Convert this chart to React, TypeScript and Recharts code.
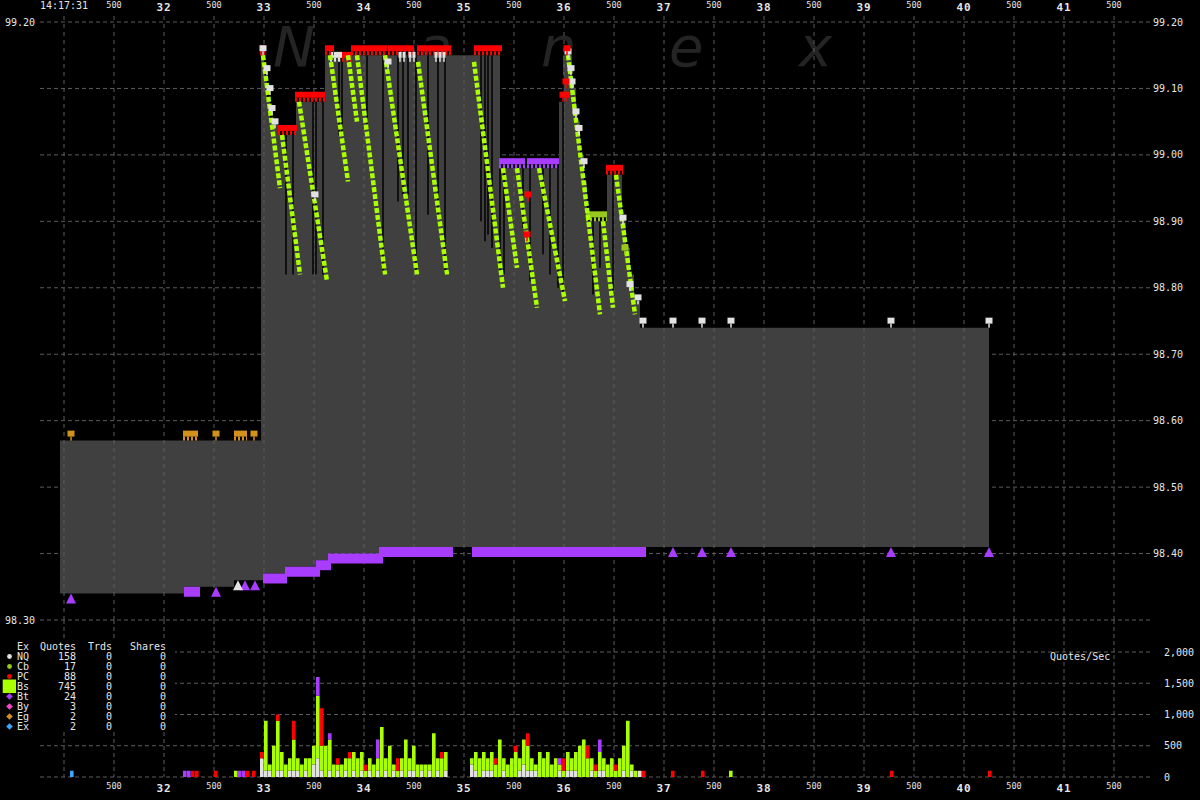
import React from 'react';
import {
  ComposedChart,
  BarChart,
  Area,
  Bar,
  Line,
  Scatter,
  XAxis,
  YAxis,
  CartesianGrid,
} from 'recharts';

// time axis is seconds past 14:17:00
const timeTicks = [
  31, 31.5, 32, 32.5, 33, 33.5, 34, 34.5, 35, 35.5, 36, 36.5, 37, 37.5, 38,
  38.5, 39, 39.5, 40, 40.5, 41, 41.5,
];
const priceTicks = [98.3, 98.4, 98.5, 98.6, 98.7, 98.8, 98.9, 99.0, 99.1, 99.2];
const leftPriceTicks = [98.3, 99.2];
const volTicks = [0, 500, 1000, 1500, 2000];

// NBBO, [time, price] steps
const askSteps = [
  [30.96, 98.57], [32.97, 99.15], [33.0, 99.12], [33.03, 99.08], [33.06, 99.05],
  [33.14, 99.03], [33.32, 99.08], [33.61, 99.15], [35.36, 98.98], [35.95, 99.08],
  [35.99, 99.15], [36.08, 99.1], [36.12, 99.05], [36.16, 99.0], [36.2, 98.96],
  [36.23, 98.9], [36.43, 98.97], [36.58, 98.9], [36.62, 98.86], [36.66, 98.82],
  [36.7, 98.78], [36.76, 98.74], [40.25, 98.74],
];
const bidSteps = [
  [30.96, 98.34], [32.2, 98.35], [32.7, 98.36], [32.99, 98.37], [33.21, 98.38],
  [33.53, 98.39], [33.64, 98.4], [34.15, 98.41], [40.25, 98.41],
];

// momentary ask drops [time, from, to]
const askDips = [
  [33.22, 99.03, 98.82], [33.29, 99.03, 98.82], [33.49, 99.08, 98.82],
  [33.52, 99.08, 98.82], [33.59, 99.08, 98.82], [33.75, 99.15, 99.03],
  [33.78, 99.15, 99.03], [34.03, 99.15, 99.04], [34.19, 99.15, 98.82],
  [34.34, 99.15, 98.93], [34.39, 99.15, 98.94], [34.44, 99.15, 98.94],
  [34.52, 99.15, 98.82], [34.64, 99.15, 98.91], [34.74, 99.15, 98.91],
  [34.81, 99.15, 98.82], [35.17, 99.15, 98.9], [35.21, 99.15, 98.87],
  [35.24, 99.15, 98.88], [35.28, 99.15, 98.86], [35.36, 98.98, 98.82],
  [35.4, 98.98, 98.82], [35.59, 98.98, 98.89], [35.66, 98.98, 98.81],
  [35.79, 98.98, 98.85], [35.86, 98.98, 98.82], [35.94, 98.98, 98.8],
  [35.99, 99.12, 98.79], [36.29, 98.9, 98.79], [36.36, 98.9, 98.83],
  [36.49, 98.97, 98.79],
];

// BATS quote runs [t1, p1, t2, p2]
const bsRuns = [
  [32.99, 99.15, 33.16, 98.95], [33.18, 99.03, 33.36, 98.82],
  [33.35, 99.08, 33.63, 98.81], [33.66, 99.15, 33.84, 98.96],
  [33.84, 99.15, 33.93, 99.05], [33.93, 99.15, 34.21, 98.82],
  [34.21, 99.15, 34.53, 98.82], [34.54, 99.14, 34.83, 98.82],
  [35.1, 99.14, 35.39, 98.8], [35.39, 98.98, 35.53, 98.83],
  [35.53, 98.98, 35.73, 98.77], [35.75, 98.98, 36.01, 98.78],
  [36.04, 99.15, 36.36, 98.76], [36.39, 98.9, 36.49, 98.77],
  [36.52, 98.97, 36.71, 98.76],
];

// clusters of ask quotes [t1, t2, price]
const pcBands = [
  [32.96, 33.01, 99.15], [33.14, 33.33, 99.03], [33.31, 33.61, 99.08],
  [33.61, 33.7, 99.15], [33.78, 33.88, 99.14], [33.87, 34.23, 99.15],
  [34.24, 34.5, 99.15], [34.53, 34.87, 99.15], [35.1, 35.38, 99.15],
  [36.42, 36.59, 98.97],
];
const nqBands = [[33.66, 33.78, 99.14]];
const egBands = [[32.19, 32.34, 98.57], [32.7, 32.83, 98.57]];
const cbBands = [[36.22, 36.43, 98.9]];
const btAskBands = [[35.35, 35.61, 98.98], [35.63, 35.95, 98.98]];
// clusters of bid quotes
const btBidBands = [
  [32.2, 32.36, 98.35], [32.99, 33.23, 98.37], [33.21, 33.56, 98.38],
  [33.52, 33.67, 98.39], [33.64, 34.19, 98.4], [34.15, 34.89, 98.41],
  [35.08, 36.82, 98.41],
];

// single quotes [time, price]
const pcQuotes = [
  [36.03, 99.15], [36.02, 99.1], [35.99, 99.08], [36.02, 99.08], [35.64, 98.93],
  [35.63, 98.87],
];
const nqQuotes = [
  [32.99, 99.15], [33.03, 99.12], [33.06, 99.09], [33.08, 99.06], [33.11, 99.04],
  [34.24, 99.13], [33.51, 98.93], [36.04, 99.145], [36.07, 99.12], [36.08, 99.1],
  [36.12, 99.055], [36.15, 99.03], [36.2, 98.98], [36.59, 98.895], [36.66, 98.795],
  [36.74, 98.775], [36.79, 98.74], [37.09, 98.74], [37.38, 98.74], [37.67, 98.74],
  [39.27, 98.74], [40.25, 98.74],
];
const nqThinQuotes = [
  [34.36, 99.14], [34.4, 99.14], [34.46, 99.14], [34.5, 99.14], [34.72, 99.14],
  [34.76, 99.14], [34.8, 99.14],
];
const egQuotes = [[31.07, 98.57], [32.52, 98.57], [32.9, 98.57]];
const cbQuotes = [[36.61, 98.85]];
const btBidQuotes = [
  [31.07, 98.34], [32.52, 98.35], [32.81, 98.36], [32.91, 98.36], [37.09, 98.41],
  [37.38, 98.41], [37.67, 98.41], [39.27, 98.41], [40.25, 98.41],
];
const nqBidQuotes = [[32.74, 98.36]];

// quotes/sec, 40ms buckets
const BUCKET = 0.04;
const block1Start = 32.98;
const nqBlock1 = [
  300, 100, 100, 0, 100, 100, 0, 100, 100, 100, 0, 100, 0, 200, 300, 100, 0, 100,
  0, 100, 0, 100, 0, 100, 0, 100, 0, 100, 0, 100, 0, 100, 0, 100, 0, 100, 0, 100,
  100, 0, 100, 0, 100, 0, 100, 0, 100,
];
const bsBlock1 = [
  0, 800, 100, 500, 800, 300, 200, 200, 500, 200, 200, 200, 300, 300, 1000, 400,
  500, 500, 200, 100, 200, 200, 300, 300, 300, 300, 100, 200, 200, 200, 800, 200,
  500, 100, 100, 200, 600, 200, 400, 200, 100, 200, 100, 700, 200, 300, 300,
];
const block2Start = 35.08;
const nqBlock2 = [
  200, 100, 0, 100, 100, 100, 0, 0, 100, 0, 0, 0, 100, 200, 100, 100, 100, 0, 0,
  0, 0, 0, 100, 0, 100, 100, 100, 0, 0, 0, 100, 0, 100, 100, 0, 0, 0, 0, 100, 0,
  100, 0, 100, 0,
];
const bsBlock2 = [
  100, 300, 300, 300, 200, 300, 200, 600, 200, 200, 300, 400, 200, 400, 400, 200,
  100, 400, 300, 400, 200, 300, 100, 100, 300, 200, 300, 500, 600, 300, 200, 100,
  300, 200, 200, 300, 100, 300, 400, 900, 100, 100, 0, 0,
];
const pcVol = [
  [32.29, 100], [32.33, 100], [32.52, 100], [32.84, 100], [32.9, 100],
  [32.98, 100], [33.14, 100], [33.3, 300], [33.58, 600], [33.74, 100],
  [33.86, 100], [34.02, 100], [34.34, 200], [34.78, 100], [35.32, 100],
  [35.52, 100], [35.64, 200], [36.0, 200], [36.24, 200], [36.32, 100],
  [36.52, 100], [36.8, 100], [37.09, 100], [37.39, 100], [39.28, 100],
  [40.26, 100],
];
const btVol = [
  [32.21, 100], [32.25, 100], [32.76, 100], [32.8, 100], [33.54, 300],
  [33.66, 100], [34.14, 300], [35.96, 100], [36.36, 200],
];
const bsVol = [[32.72, 100], [37.67, 100]];
const exVol = [[31.08, 100]];

const legendRows = [
  ['NQ', 158, 'circle'],
  ['Cb', 17, 'circle'],
  ['PC', 88, 'circle'],
  ['Bs', 745, 'square'],
  ['Bt', 24, 'diamond'],
  ['By', 3, 'diamond'],
  ['Eg', 2, 'diamond'],
  ['Ex', 2, 'diamond'],
];

const MONO = '"DejaVu Sans Mono", monospace';
const INK = '#e6e6e6';
const GRID = '#5c5c5c';
const SPREAD = '#404040';
const LIME = '#aaff00';
const CB = '#98c81e';
const RED = '#ff0000';
const WHITE = '#e2e2e2';
const PURPLE = '#a83cff';
const PINK = '#ff44cc';
const ORANGE = '#d4901c';
const BLUE = '#3aa8ff';
const legendColors: Record<string, string> = {
  NQ: WHITE, Cb: CB, PC: RED, Bs: LIME, Bt: PURPLE, By: PINK, Eg: ORANGE, Ex: BLUE,
};

const T_MIN = 30.76;
const T_MAX = 41.86;
const PX = 0.9 / 598; // price units per pixel
const P_MIN = 98.3;
const P_MAX = 99.2 + 10 * PX;
const V_MAX = (2000 * 157) / 125;

const stepAt = (steps: number[][], t: number) => {
  let v = steps[0][1];
  for (const [st, p] of steps) if (st <= t + 1e-9) v = p;
  return v;
};
const spreadTimes = Array.from(
  new Set([...askSteps, ...bidSteps].map((s) => s[0]))
).sort((a, b) => a - b);
const spreadRows = spreadTimes.map((t) => ({
  t,
  r: [stepAt(bidSteps, t), stepAt(askSteps, t)],
}));

const volMap: Record<string, any> = {};
const addVol = (t: number, key: string, v: number) => {
  const k = t.toFixed(2);
  if (!volMap[k]) volMap[k] = { t: Number(k), nq: 0, bs: 0, pc: 0, bt: 0, ex: 0 };
  volMap[k][key] += v;
};
nqBlock1.forEach((v, i) => addVol(block1Start + i * BUCKET, 'nq', v));
bsBlock1.forEach((v, i) => addVol(block1Start + i * BUCKET, 'bs', v));
nqBlock2.forEach((v, i) => addVol(block2Start + i * BUCKET, 'nq', v));
bsBlock2.forEach((v, i) => addVol(block2Start + i * BUCKET, 'bs', v));
pcVol.forEach(([t, v]) => addVol(t, 'pc', v));
btVol.forEach(([t, v]) => addVol(t, 'bt', v));
bsVol.forEach(([t, v]) => addVol(t, 'bs', v));
exVol.forEach(([t, v]) => addVol(t, 'ex', v));
const volRows = Object.values(volMap).sort((a: any, b: any) => a.t - b.t);

const pts = (list: number[][]) => list.map(([t, p]) => ({ t, p }));

const pin = (color: string, w = 7) => (props: any) => {
  const { cx, cy } = props;
  if (cx == null || cy == null) return <g />;
  return (
    <g>
      <rect x={cx - w / 2} y={cy - 10} width={w} height={6} fill={color} />
      <rect x={cx - 0.75} y={cy - 4} width={1.5} height={4} fill={color} />
    </g>
  );
};
const tri = (color: string) => (props: any) => {
  const { cx, cy } = props;
  if (cx == null || cy == null) return <g />;
  return (
    <polygon
      points={`${cx},${cy} ${cx - 5},${cy + 10} ${cx + 5},${cy + 10}`}
      fill={color}
    />
  );
};

const TopTick = (props: any) => {
  const { x, payload } = props;
  const v = payload.value;
  if (v === 31)
    return (
      <text x={x} y={9} textAnchor='middle' fill={INK} fontFamily={MONO} fontSize={10}>
        14:17:31
      </text>
    );
  if (Number.isInteger(v))
    return (
      <text x={x} y={11} textAnchor='middle' fill={INK} fontFamily={MONO} fontSize={11} fontWeight='bold' letterSpacing={1}>
        {v}
      </text>
    );
  return (
    <text x={x} y={8} textAnchor='middle' fill={INK} fontFamily={MONO} fontSize={8.5}>
      500
    </text>
  );
};

// the volume chart starts at page y 620, so these are chart coordinates
const BottomTick = (props: any) => {
  const { x, payload } = props;
  const v = payload.value;
  if (v === 31) return <g />;
  if (Number.isInteger(v))
    return (
      <text x={x} y={172} textAnchor='middle' fill={INK} fontFamily={MONO} fontSize={11} fontWeight='bold' letterSpacing={1}>
        {v}
      </text>
    );
  return (
    <text x={x} y={169} textAnchor='middle' fill={INK} fontFamily={MONO} fontSize={8.5}>
      500
    </text>
  );
};

const PriceTick = (props: any) => {
  const { x, y, payload, side } = props;
  return (
    <text
      x={side === 'left' ? x : x + 1}
      y={y + 3.5}
      textAnchor={side === 'left' ? 'end' : 'start'}
      fill={INK}
      fontFamily={MONO}
      fontSize={10}
    >
      {Number(payload.value).toFixed(2)}
    </text>
  );
};

const VolTick = (props: any) => {
  const { x, y, payload } = props;
  return (
    <text x={x} y={y + 3.5} textAnchor='start' fill={INK} fontFamily={MONO} fontSize={10}>
      {Number(payload.value).toLocaleString('en-US')}
    </text>
  );
};

const seg = (key: string, data: any[], color: string, width: number, dash?: string) => (
  <Line
    key={key}
    xAxisId='x'
    yAxisId='p'
    data={data}
    dataKey='p'
    stroke={color}
    strokeWidth={width}
    strokeDasharray={dash}
    strokeLinecap='butt'
    dot={false}
    activeDot={false}
    isAnimationActive={false}
  />
);

const askBand = (key: string, [t1, t2, p]: number[], color: string) => [
  seg(key + 'h', [{ t: t1, p: p + 7 * PX }, { t: t2, p: p + 7 * PX }], color, 6),
  seg(key + 's', [{ t: t1, p: p + 2 * PX }, { t: t2, p: p + 2 * PX }], color, 4, '2 2'),
];

const Legend = () => (
  <svg width={175} height={92} style={{ position: 'absolute', left: 0, top: 640 }}>
    <rect x={0} y={0} width={175} height={92} fill='#000' />
    <g fill={INK} fontFamily={MONO} fontSize={10}>
      <text x={17} y={10}>Ex</text>
      <text x={76} y={10} textAnchor='end'>Quotes</text>
      <text x={112} y={10} textAnchor='end'>Trds</text>
      <text x={166} y={10} textAnchor='end'>Shares</text>
      {legendRows.map(([name, quotes, icon], i) => {
        const cy = 16.5 + i * 10;
        const color = legendColors[name as string];
        return (
          <g key={name as string}>
            {icon === 'circle' && <circle cx={9.5} cy={cy} r={2.4} fill={color} />}
            {icon === 'square' && <rect x={2.7} y={cy - 7} width={13.3} height={13.5} fill={color} />}
            {icon === 'diamond' && (
              <polygon
                points={`9.5,${cy - 3.3} 12.8,${cy} 9.5,${cy + 3.3} 6.2,${cy}`}
                fill={color}
              />
            )}
            <text x={17} y={cy + 3.5}>{name}</text>
            <text x={76} y={cy + 3.5} textAnchor='end'>{quotes}</text>
            <text x={112} y={cy + 3.5} textAnchor='end'>0</text>
            <text x={166} y={cy + 3.5} textAnchor='end'>0</text>
          </g>
        );
      })}
    </g>
  </svg>
);

export default function App() {
  return (
    <div
      style={{
        position: 'fixed',
        left: 0,
        top: 0,
        width: 1200,
        height: 800,
        background: '#000',
        overflow: 'hidden',
      }}
    >
      <svg width={1200} height={120} style={{ position: 'absolute', left: 0, top: 0 }}>
        <g fill='#242424' fontFamily='"DejaVu Sans", sans-serif' fontSize={56} fontStyle='italic'>
          <text x={273} y={66}>N</text>
          <text x={418} y={66}>a</text>
          <text x={541} y={66}>n</text>
          <text x={669} y={66}>e</text>
          <text x={799} y={66}>x</text>
        </g>
      </svg>

      <div style={{ position: 'absolute', left: 0, top: 0 }}>
        <ComposedChart
          width={1200}
          height={640}
          data={spreadRows}
          margin={{ top: 0, right: 0, bottom: 20, left: 0 }}
        >
          <CartesianGrid
            xAxisId='x'
            yAxisId='p'
            vertical={false}
            horizontalValues={priceTicks}
            stroke={GRID}
            strokeDasharray='4 3'
          />
          <XAxis
            xAxisId='x'
            orientation='top'
            type='number'
            dataKey='t'
            domain={[T_MIN, T_MAX]}
            ticks={timeTicks}
            interval={0}
            height={12}
            axisLine={false}
            tickLine={false}
            tick={<TopTick />}
            allowDataOverflow
          />
          <YAxis
            yAxisId='pl'
            orientation='left'
            type='number'
            width={40}
            domain={[P_MIN, P_MAX]}
            ticks={leftPriceTicks}
            interval={0}
            axisLine={false}
            tickLine={false}
            tickSize={0}
            tickMargin={5}
            tick={<PriceTick side='left' />}
            allowDataOverflow
          />
          <YAxis
            yAxisId='p'
            orientation='right'
            type='number'
            width={50}
            domain={[P_MIN, P_MAX]}
            ticks={priceTicks.slice(1)}
            interval={0}
            axisLine={false}
            tickLine={false}
            tickSize={0}
            tickMargin={2}
            tick={<PriceTick side='right' />}
            allowDataOverflow
          />
          <Area
            xAxisId='x'
            yAxisId='p'
            dataKey='r'
            type='stepAfter'
            fill={SPREAD}
            fillOpacity={1}
            stroke='none'
            isAnimationActive={false}
          />
          {timeTicks.map((t) =>
            seg('g' + t, [{ t, p: P_MIN }, { t, p: P_MAX }], GRID, 1, '4 4')
          )}
          {askDips.map(([t, a, b], i) =>
            seg('d' + i, [{ t, p: a }, { t, p: b }], '#000', 1.5)
          )}
          {btBidBands.map(([t1, t2, p], i) =>
            seg('bb' + i, [{ t: t1, p: p - 5 * PX }, { t: t2, p: p - 5 * PX }], PURPLE, 10)
          )}
          {egBands.map((b, i) => askBand('eg' + i, b, ORANGE))}
          {cbBands.map((b, i) => askBand('cb' + i, b, CB))}
          {btAskBands.map((b, i) => askBand('ba' + i, b, PURPLE))}
          {nqBands.map((b, i) => askBand('nq' + i, b, WHITE))}
          {pcBands.map((b, i) => askBand('pc' + i, b, RED))}
          {bsRuns.map(([t1, p1, t2, p2], i) =>
            seg('bs' + i, [{ t: t1, p: p1 }, { t: t2, p: p2 }], LIME, 4.5, '5 2')
          )}
          <Scatter xAxisId='x' yAxisId='p' data={pts(egQuotes)} dataKey='p' shape={pin(ORANGE)} isAnimationActive={false} />
          <Scatter xAxisId='x' yAxisId='p' data={pts(cbQuotes)} dataKey='p' shape={pin(CB)} isAnimationActive={false} />
          <Scatter xAxisId='x' yAxisId='p' data={pts(nqQuotes)} dataKey='p' shape={pin(WHITE)} isAnimationActive={false} />
          <Scatter xAxisId='x' yAxisId='p' data={pts(nqThinQuotes)} dataKey='p' shape={pin(WHITE, 3)} isAnimationActive={false} />
          <Scatter xAxisId='x' yAxisId='p' data={pts(pcQuotes)} dataKey='p' shape={pin(RED)} isAnimationActive={false} />
          <Scatter xAxisId='x' yAxisId='p' data={pts(btBidQuotes)} dataKey='p' shape={tri(PURPLE)} isAnimationActive={false} />
          <Scatter xAxisId='x' yAxisId='p' data={pts(nqBidQuotes)} dataKey='p' shape={tri(WHITE)} isAnimationActive={false} />
        </ComposedChart>
      </div>

      <div style={{ position: 'absolute', left: 0, top: 620 }}>
        <BarChart
          width={1200}
          height={180}
          data={volRows}
          margin={{ top: 0, right: 0, bottom: 0, left: 40 }}
        >
          <CartesianGrid
            horizontalValues={volTicks}
            verticalValues={timeTicks}
            stroke={GRID}
            strokeDasharray='4 3'
          />
          <XAxis
            type='number'
            dataKey='t'
            domain={[T_MIN, T_MAX]}
            ticks={timeTicks}
            interval={0}
            height={23}
            axisLine={false}
            tickLine={false}
            tick={<BottomTick />}
            allowDataOverflow
          />
          <YAxis
            orientation='right'
            type='number'
            width={50}
            domain={[0, V_MAX]}
            ticks={volTicks}
            interval={0}
            axisLine={false}
            tickLine={false}
            tickSize={0}
            tickMargin={14}
            tick={<VolTick />}
            allowDataOverflow
          />
          <Bar dataKey='nq' stackId='v' fill={WHITE} barSize={4} isAnimationActive={false} />
          <Bar dataKey='bs' stackId='v' fill={LIME} barSize={4} isAnimationActive={false} />
          <Bar dataKey='pc' stackId='v' fill={RED} barSize={4} isAnimationActive={false} />
          <Bar dataKey='bt' stackId='v' fill={PURPLE} barSize={4} isAnimationActive={false} />
          <Bar dataKey='ex' stackId='v' fill={BLUE} barSize={4} isAnimationActive={false} />
        </BarChart>
      </div>

      <Legend />
      <div
        style={{
          position: 'absolute',
          left: 1050,
          top: 651,
          color: INK,
          fontFamily: MONO,
          fontSize: 10,
          lineHeight: '12px',
        }}
      >
        Quotes/Sec
      </div>
    </div>
  );
}
